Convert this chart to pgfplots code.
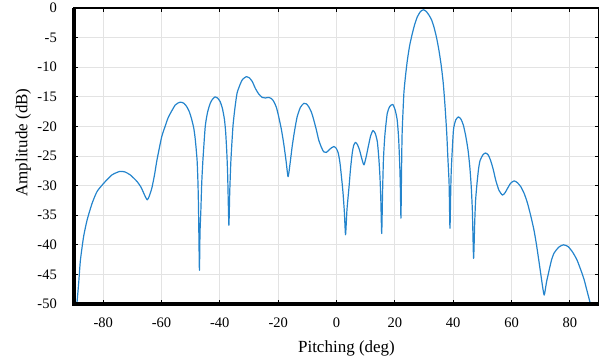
\documentclass[border=0pt]{standalone}
\usepackage{fontspec}
\setmainfont{Liberation Serif}
\usepackage{pgfplots}
\pgfplotsset{compat=1.18}
\definecolor{mblue}{RGB}{36,132,204}
\begin{document}
\begin{tikzpicture}
\begin{axis}[
 scale only axis, width=525pt, height=296pt,
 xmin=-90, xmax=90, ymin=-50, ymax=0,
 xtick={-80,-60,...,80}, ytick={-50,-45,...,0},
 grid=major, grid style={gray!22, line width=0.8pt},
 axis line style={line width=2pt},
 tick align=inside, tick pos=both, major tick length=4pt,
 tick style={black, line width=0.8pt},
 /pgf/number format/assume math mode=true,
 ticklabel style={font=\fontsize{14.5}{17}\selectfont},
 xticklabel style={inner sep=0pt, anchor=north, yshift=-14pt},
 yticklabel style={inner sep=0pt, anchor=east, xshift=-17pt},
 xlabel={Pitching (deg)}, ylabel={Amplitude (dB)},
 label style={font=\fontsize{17}{20}\selectfont},
 xlabel style={at={(axis description cs:0.519,-0.1655)}, anchor=base, inner sep=0pt},
 ylabel style={at={(axis description cs:-0.0886,0.5456)}, anchor=base, inner sep=0pt},
 clip=true,
]
\addplot[mblue, line width=1.2pt, line join=round, smooth, tension=0.35] coordinates {
(-89.3,-51) (-89.0,-49.9) (-88.4,-46.5) (-87.8,-42.6) (-86.7,-38.6) (-85.5,-35.8)
(-83.8,-33.0) (-82.1,-31.0) (-79.8,-29.6) (-77.0,-28.2) (-74.3,-27.6) (-72.5,-27.7)
(-70.7,-28.2) (-68.4,-29.3) (-67.0,-30.3) (-65.8,-31.6) (-64.9,-32.4) (-64.2,-31.8)
(-63.3,-30.4) (-62.4,-28.2) (-61.6,-25.8) (-60.8,-23.8) (-59.9,-21.7) (-58.7,-19.9)
(-57.6,-18.4) (-55.3,-16.4) (-53.6,-15.9) (-52.3,-16.1) (-51.3,-16.7) (-50.4,-17.6)
(-49.6,-18.9) (-48.9,-20.4) (-48.4,-22.3) (-47.8,-25.7) (-47.5,-29.5) (-47.3,-34.1)
(-47.0,-44.3) (-46.8,-38) (-46.5,-34.1) (-46.2,-29.5) (-45.8,-25.7) (-45.0,-20.0)
(-44.2,-17.6) (-43.3,-16.1) (-42.5,-15.4) (-41.6,-15.0) (-40.8,-15.2) (-39.9,-15.8)
(-39.1,-17.0) (-38.4,-18.9) (-38.0,-21.0) (-37.6,-24.5) (-37.3,-28.5) (-36.9,-36.7)
(-36.6,-31) (-36.2,-25.7) (-35.5,-20.0) (-34.8,-16.8) (-34.1,-14.4) (-33.2,-13.1)
(-32.4,-12.2) (-31.6,-11.8) (-30.9,-11.6) (-29.9,-11.8) (-28.9,-12.4) (-27.8,-13.6)
(-26.7,-14.5) (-25.5,-15.1) (-24.4,-15.2) (-23.2,-15.1) (-22.3,-15.3) (-21.5,-15.8)
(-20.6,-16.8) (-19.8,-18.4) (-18.9,-20.5) (-18.1,-22.9) (-17.3,-25.8) (-16.6,-28.5)
(-15.9,-26.2) (-15.2,-23.4) (-14.4,-20.8) (-13.5,-18.4) (-12.4,-16.8) (-11.2,-16.1)
(-10.3,-16.2) (-9.5,-16.7) (-8.6,-17.6) (-7.8,-18.9) (-6.9,-20.6) (-6.1,-22.3)
(-5.2,-23.5) (-4.4,-24.3) (-3.5,-24.4) (-2.6,-24.0) (-1.7,-23.6) (-0.9,-23.4)
(-0.1,-23.7) (0.6,-24.5) (1.2,-26.2) (1.7,-28.5) (2.2,-31) (2.7,-34.5) (3.1,-38.3)
(3.6,-34) (4.3,-30.2) (4.8,-27.2) (5.4,-24.5) (5.9,-23.2) (6.5,-22.7) (7.2,-23.1)
(7.9,-24.0) (8.7,-25.5) (9.4,-26.5) (10.1,-25.3) (10.9,-23.4) (11.7,-21.6)
(12.5,-20.7) (13.3,-21.2) (14.0,-22.6) (14.5,-25.3) (14.9,-28.5) (15.2,-32.5)
(15.5,-38.1) (15.8,-31) (16.1,-25.5) (16.6,-21.4) (17.4,-17.8) (18.3,-16.6)
(19.3,-16.3) (20.1,-17.2) (20.8,-18.9) (21.3,-22.0) (21.7,-26.8) (21.9,-30.5)
(22.1,-35.5) (22.3,-27.5) (22.5,-21.2) (23.1,-14.4) (23.7,-11.3) (24.3,-8.8)
(25.1,-6.3) (26.0,-4.3) (26.8,-2.8) (27.7,-1.5) (28.8,-0.6) (29.8,-0.3) (30.8,-0.6)
(31.7,-1.2) (32.6,-2.0) (33.4,-3.2) (34.3,-5.0) (35.1,-7.1) (35.9,-9.7) (36.6,-12.7)
(37.2,-16.5) (37.8,-21.2) (38.2,-25.5) (38.6,-29.6) (38.9,-37.2) (39.2,-30)
(39.4,-26.8) (40.1,-20.6) (40.9,-18.9) (41.8,-18.4) (42.7,-18.8) (43.5,-19.8)
(44.3,-21.6) (45.1,-24.0) (45.7,-26.8) (46.2,-30.2) (46.6,-34.5) (47.0,-42.3)
(47.4,-36) (47.7,-32.4) (48.2,-29.5) (48.7,-27.2) (49.2,-25.8) (50.2,-24.8)
(51.1,-24.5) (52.0,-24.8) (52.8,-25.7) (53.7,-27.2) (54.6,-29.1) (55.7,-30.8)
(56.9,-31.6) (57.8,-31.2) (58.6,-30.5) (59.7,-29.6) (60.9,-29.2) (62.0,-29.5)
(63.2,-30.2) (64.4,-31.4) (65.5,-33.0) (66.6,-35.1) (67.7,-37.5) (68.6,-40.1)
(69.5,-43.1) (70.4,-46.2) (71.2,-48.5) (72.0,-46.3) (72.9,-44.3) (73.7,-42.6)
(74.6,-41.4) (76.2,-40.4) (77.8,-40.0) (79.4,-40.3) (80.9,-41.2) (82.4,-42.5)
(83.8,-44.3) (84.9,-45.9) (85.8,-47.6) (87.0,-49.9) (87.4,-51)
};
\coordinate (BL) at (rel axis cs:0,0);
\coordinate (TR) at (rel axis cs:1,1);
\coordinate (TL) at (rel axis cs:0,1);
\coordinate (BR) at (rel axis cs:1,0);
\end{axis}
\draw[line width=3.2pt, black] (TL) -- (BL) -- (BR);
\pgfresetboundingbox
\path[use as bounding box] ([xshift=-74pt,yshift=-56pt]BL) rectangle ([yshift=8pt]TR);
\end{tikzpicture}
\end{document}
